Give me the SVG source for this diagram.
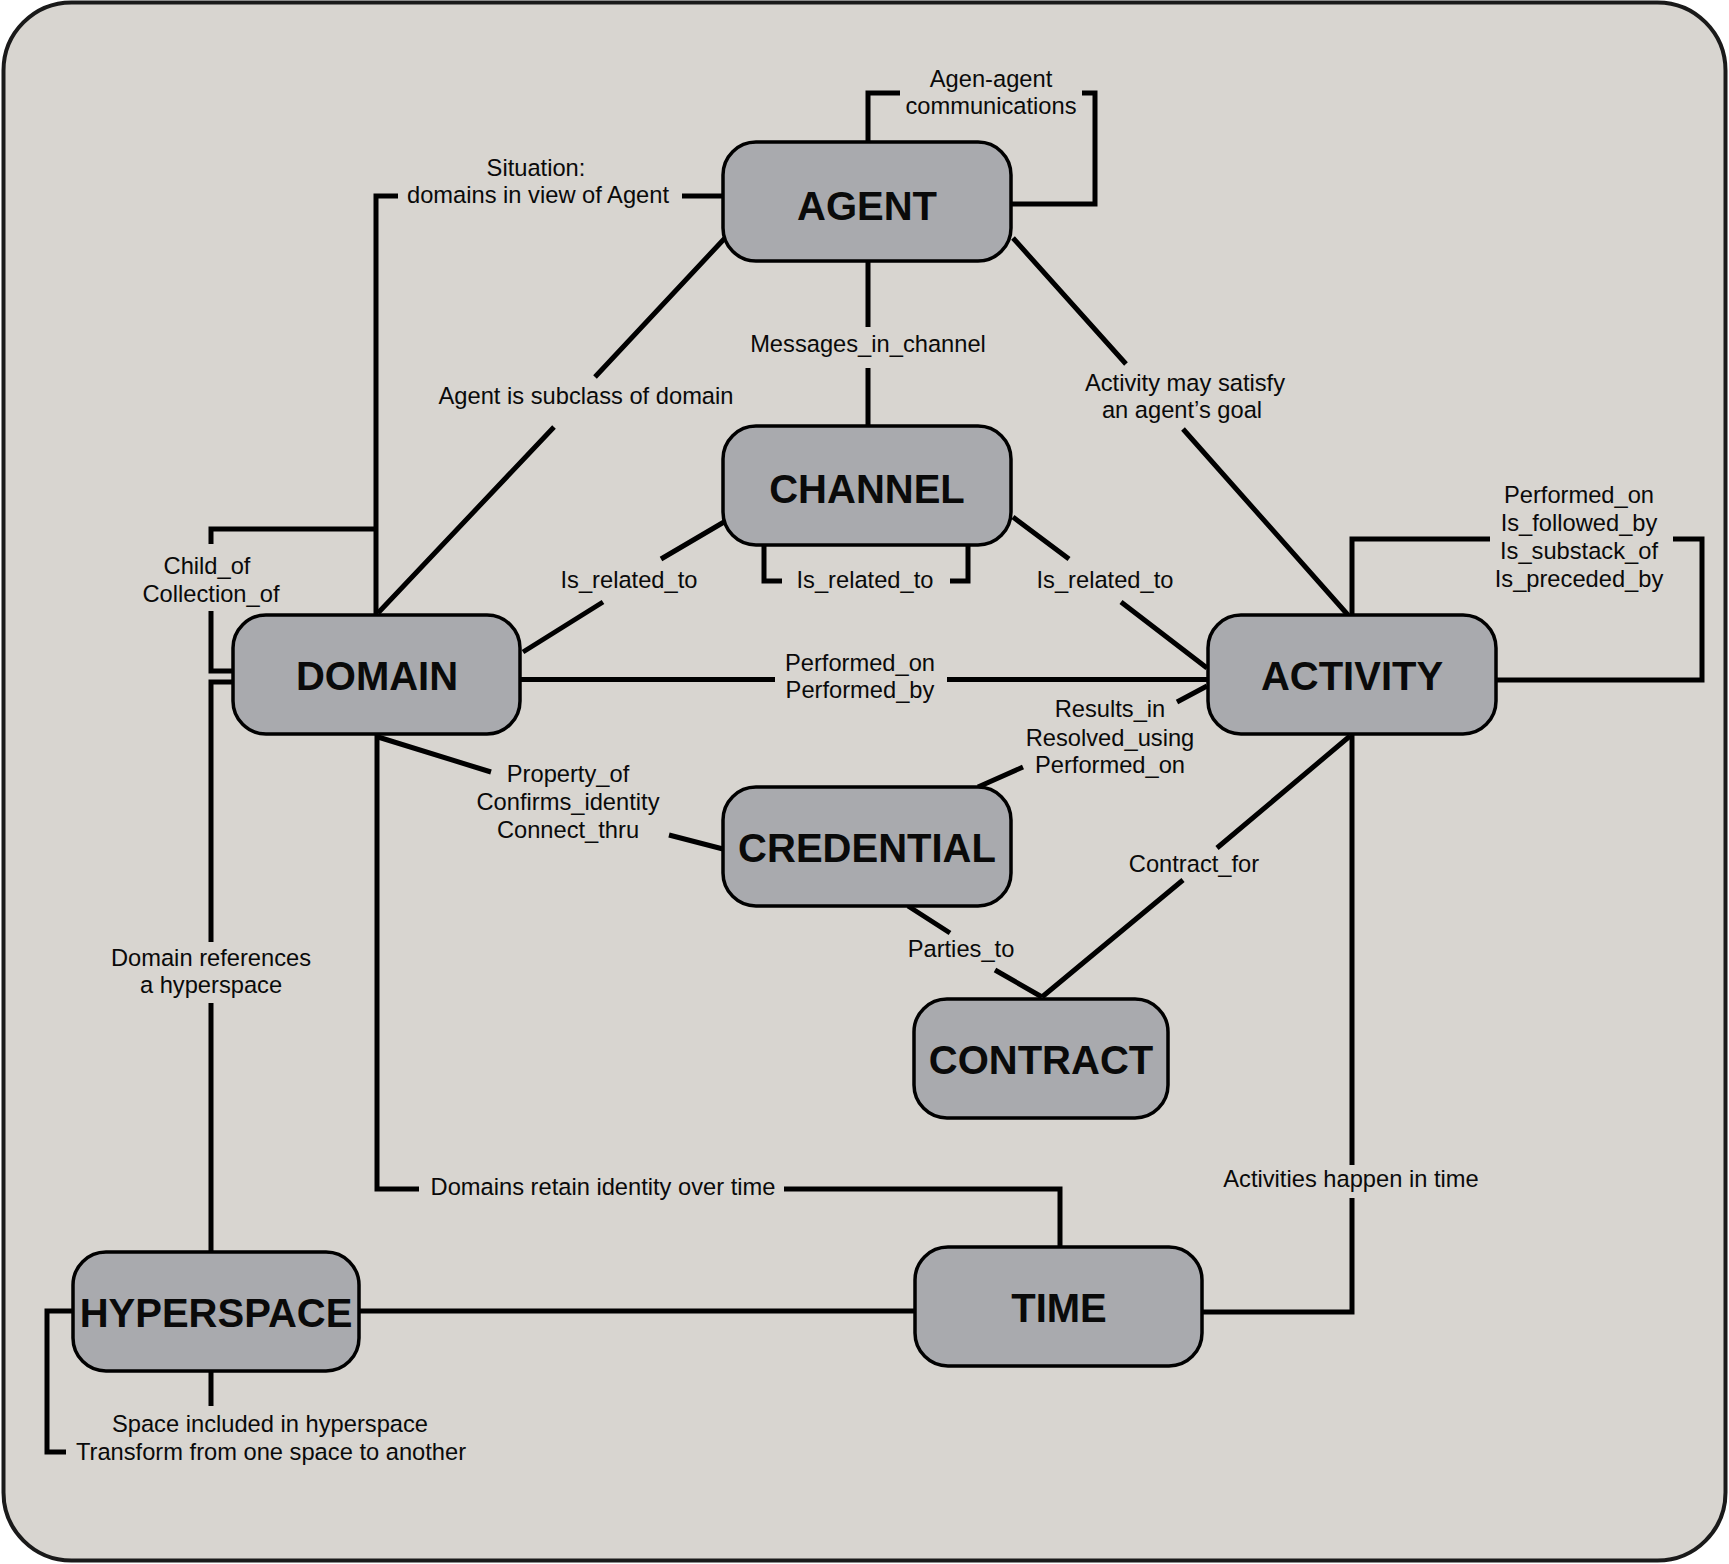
<svg xmlns="http://www.w3.org/2000/svg" width="1729" height="1564" viewBox="0 0 1729 1564">
<style>
.frame{fill:#d8d5d0;stroke:#1a1a1a;stroke-width:4}
.node{fill:#a9aaae;stroke:#000;stroke-width:3.5}
.nl{font-family:"Liberation Sans",Arial,sans-serif;font-weight:bold;font-size:40px;fill:#0a0a0a;text-anchor:middle}
.lb{font-family:"Liberation Sans",Arial,sans-serif;font-size:23.7px;fill:#0a0a0a;text-anchor:middle}
.c{fill:none;stroke:#000;stroke-width:5;stroke-linejoin:miter;stroke-linecap:butt}
</style>
<rect width="1729" height="1564" fill="#ffffff"/>
<rect class="frame" x="3.5" y="2.5" width="1722" height="1558" rx="68" ry="68"/>
<g id="connectors">
<path class="c" d="M868,142 V93 H900 M1082,93 H1095 V204 H1011"/>
<path class="c" d="M723,196 H682 M398,196 H376 V615"/>
<path class="c" d="M376,529 H211 V544 M211,611 V671 H233"/>
<path class="c" d="M233,682 H211 V942 M211,1003 V1252"/>
<path class="c" d="M725,238 L595,377 M554,427 L378,613"/>
<path class="c" d="M868,261 V327 M868,368 V426"/>
<path class="c" d="M1013,238 L1126,364 M1183,429 L1348,615"/>
<path class="c" d="M724,522 L661,559 M603,602 L523,652"/>
<path class="c" d="M764,545 V581 H782 M950,581 H968 V545"/>
<path class="c" d="M1013,517 L1069,559 M1121,602 L1207,668"/>
<path class="c" d="M520,679.5 H775 M947,679.5 H1208"/>
<path class="c" d="M1352,615 V539 H1490 M1673,539 H1702 V680 H1496"/>
<path class="c" d="M1207,686 L1177,702 M1023,767 L978,787"/>
<path class="c" d="M378,737 L491,772 M669,835 L723,849"/>
<path class="c" d="M377,734 V1189 H419 M784,1189 H1060 V1247"/>
<path class="c" d="M1352,734 V1165 M1352,1198 V1312 H1202"/>
<path class="c" d="M1350,736 L1217,848 M1183,880 L1042,997"/>
<path class="c" d="M908,906 L950,933 M995,970 L1042,997"/>
<path class="c" d="M359,1311 H915"/>
<path class="c" d="M73,1311 H47 V1452 H66 M211,1371 V1406"/>
</g>
<g id="labels">
<text class="lb" x="991" y="87">Agen-agent</text>
<text class="lb" x="991" y="114">communications</text>
<text class="lb" x="536" y="176">Situation:</text>
<text class="lb" x="538" y="203">domains in view of Agent</text>
<text class="lb" x="207" y="574">Child_of</text>
<text class="lb" x="211" y="602">Collection_of</text>
<text class="lb" x="211" y="966">Domain references</text>
<text class="lb" x="211" y="993">a hyperspace</text>
<text class="lb" x="586" y="404">Agent is subclass of domain</text>
<text class="lb" x="868" y="352">Messages_in_channel</text>
<text class="lb" x="1185" y="391">Activity may satisfy</text>
<text class="lb" x="1182" y="418">an agent’s goal</text>
<text class="lb" x="629" y="588">Is_related_to</text>
<text class="lb" x="865" y="588">Is_related_to</text>
<text class="lb" x="1105" y="588">Is_related_to</text>
<text class="lb" x="860" y="671">Performed_on</text>
<text class="lb" x="860" y="698">Performed_by</text>
<text class="lb" x="1579" y="503">Performed_on</text>
<text class="lb" x="1579" y="531">Is_followed_by</text>
<text class="lb" x="1579" y="559">Is_substack_of</text>
<text class="lb" x="1579" y="587">Is_preceded_by</text>
<text class="lb" x="1110" y="717">Results_in</text>
<text class="lb" x="1110" y="746">Resolved_using</text>
<text class="lb" x="1110" y="773">Performed_on</text>
<text class="lb" x="568" y="782">Property_of</text>
<text class="lb" x="568" y="810">Confirms_identity</text>
<text class="lb" x="568" y="838">Connect_thru</text>
<text class="lb" x="1194" y="872">Contract_for</text>
<text class="lb" x="961" y="957">Parties_to</text>
<text class="lb" x="603" y="1195">Domains retain identity over time</text>
<text class="lb" x="1351" y="1187">Activities happen in time</text>
<text class="lb" x="270" y="1432">Space included in hyperspace</text>
<text class="lb" x="271" y="1460">Transform from one space to another</text>
</g>
<g id="agent"><rect class="node" x="723" y="142" width="288" height="119" rx="33"/><text class="nl" x="867" y="220">AGENT</text></g>
<g id="channel"><rect class="node" x="723" y="426" width="288" height="119" rx="33"/><text class="nl" x="867" y="503">CHANNEL</text></g>
<g id="domain"><rect class="node" x="233" y="615" width="287" height="119" rx="33"/><text class="nl" x="377" y="690">DOMAIN</text></g>
<g id="activity"><rect class="node" x="1208" y="615" width="288" height="119" rx="33"/><text class="nl" x="1352" y="690">ACTIVITY</text></g>
<g id="credential"><rect class="node" x="723" y="787" width="288" height="119" rx="33"/><text class="nl" x="867" y="862">CREDENTIAL</text></g>
<g id="contract"><rect class="node" x="914" y="999" width="254" height="119" rx="33"/><text class="nl" x="1041" y="1074">CONTRACT</text></g>
<g id="hyperspace"><rect class="node" x="73" y="1252" width="286" height="119" rx="33"/><text class="nl" x="216" y="1327">HYPERSPACE</text></g>
<g id="time"><rect class="node" x="915" y="1247" width="287" height="119" rx="33"/><text class="nl" x="1059" y="1322">TIME</text></g>
</svg>
